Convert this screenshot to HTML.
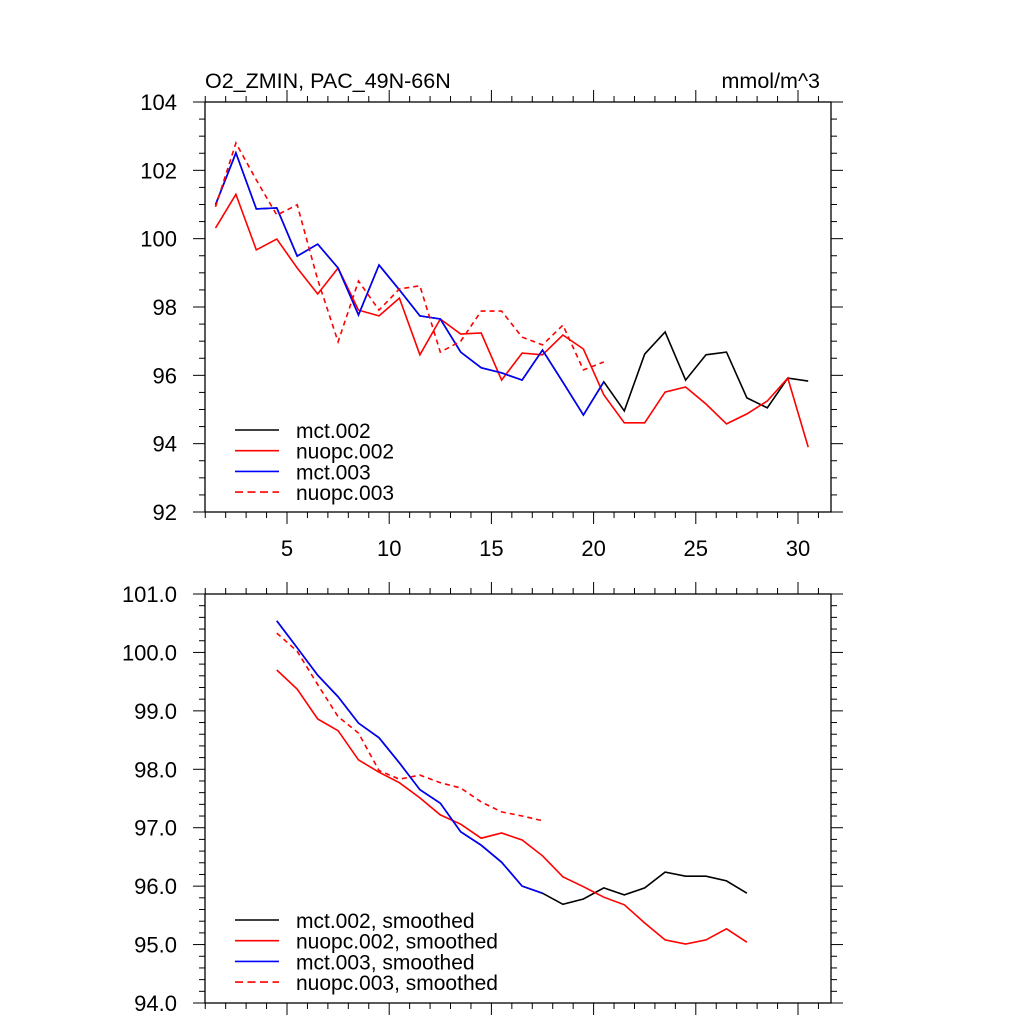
<!DOCTYPE html>
<html><head><meta charset="utf-8"><style>body{margin:0;background:#fff}svg{display:block}text{font-family:"Liberation Sans",sans-serif;fill:#000}</style></head>
<body>
<svg id="chart" width="1024" height="1024" xmlns="http://www.w3.org/2000/svg"></svg>
<script>
const yearsTop = [1.5,2.5,3.5,4.5,5.5,6.5,7.5,8.5,9.5,10.5,11.5,12.5,13.5,14.5,15.5,16.5,17.5,18.5,19.5,20.5,21.5,22.5,23.5,24.5,25.5,26.5,27.5,28.5,29.5,30.5];
const mct002 = [100.99,102.51,100.87,100.9,99.49,99.84,99.14,97.77,99.23,98.5,97.74,97.65,96.68,96.22,96.07,95.86,96.74,95.8,94.84,95.81,94.96,96.62,97.27,95.86,96.6,96.68,95.34,95.05,95.92,95.83];
const nuopc002 = [100.31,101.3,99.67,99.99,99.14,98.38,99.14,97.91,97.74,98.26,96.6,97.65,97.21,97.24,95.86,96.65,96.6,97.18,96.77,95.43,94.61,94.61,95.51,95.66,95.16,94.58,94.87,95.25,95.92,93.9];
const mct003 = [100.99,102.51,100.87,100.9,99.49,99.84,99.14,97.77,99.23,98.5,97.74,97.65,96.68,96.22,96.07,95.86,96.74,95.8,94.84,95.81];
const nuopc003 = [100.93,102.8,101.72,100.69,100.99,98.8,96.98,98.76,97.91,98.53,98.62,96.68,97.0,97.88,97.88,97.12,96.89,97.47,96.16,96.39];
const yearsSm = [4.5,5.5,6.5,7.5,8.5,9.5,10.5,11.5,12.5,13.5,14.5,15.5,16.5,17.5,18.5,19.5,20.5,21.5,22.5,23.5,24.5,25.5,26.5,27.5];
const mct002s = [100.54,100.08,99.61,99.24,98.79,98.54,98.11,97.65,97.42,96.93,96.70,96.41,96.0,95.88,95.69,95.78,95.97,95.85,95.97,96.24,96.17,96.17,96.09,95.88];
const nuopc002s = [99.7,99.37,98.86,98.66,98.16,97.95,97.77,97.51,97.22,97.06,96.82,96.91,96.79,96.52,96.16,95.99,95.81,95.68,95.37,95.08,95.01,95.08,95.27,95.04];
const mct003s = [100.54,100.08,99.61,99.24,98.79,98.54,98.11,97.65,97.42,96.93,96.70,96.41,96.0,95.88];
const nuopc003s = [100.33,100.02,99.45,98.9,98.62,97.98,97.83,97.9,97.77,97.68,97.44,97.27,97.2,97.12];
const topTicks = [92,94,96,98,100,102,104];
const botTicks = [94,95,96,97,98,99,100,101];
const xTicks = [5,10,15,20,25,30];

const svg = document.getElementById('chart');
const NS = 'http://www.w3.org/2000/svg';
function el(tag, attrs, parent){const e=document.createElementNS(NS,tag);for(const k in attrs)e.setAttribute(k,attrs[k]);(parent||svg).appendChild(e);return e;}
const X0=205,X1=831;
const xs = v => 287 + (v-5)*(798-287)/25;
function panel(name, top, bot, ymin, ymax, minorStep, yLabels, dec, showX){
  const g = el('g',{});
  
  
  const ys = v => bot - (v-ymin)*(bot-top)/(ymax-ymin);
  el('rect',{x:X0,y:top,width:X1-X0,height:bot-top,fill:'none',stroke:'#000','stroke-width':1.3},g);
  for(let v=1; v<=31.6; v+=1){
    const major = v%5===0; const L = major?12:6; const x=xs(v);
    el('line',{x1:x,x2:x,y1:bot,y2:bot+L,stroke:'#000','stroke-width':1},g);
    el('line',{x1:x,x2:x,y1:top,y2:top-L,stroke:'#000','stroke-width':1},g);
  }
  const n = Math.round((ymax-ymin)/minorStep);
  for(let i=0;i<=n;i++){
    const v=ymin+i*minorStep; const y=ys(v);
    const major = yLabels.some(t=>Math.abs(t-v)<1e-6); const L=major?12:6;
    el('line',{x1:X0,x2:X0-L,y1:y,y2:y,stroke:'#000','stroke-width':1},g);
    el('line',{x1:X1,x2:X1+L,y1:y,y2:y,stroke:'#000','stroke-width':1},g);
  }
  yLabels.forEach(v=>{
    const t=el('text',{x:177,y:ys(v)+8,'text-anchor':'end','font-size':22},g);
    t.textContent = v.toFixed(dec);
    
    
  });
  if(showX) xTicks.forEach(v=>{
    const t=el('text',{x:xs(v),y:bot+44,'text-anchor':'middle','font-size':22},g);
    t.textContent=v;
    
    
  });
  return {g,ys};
}
function series(p, xv, yv, color, dash, nm){
  const pts = yv.map((v,i)=>xs(xv[i]).toFixed(1)+','+p.ys(v).toFixed(1)).join(' ');
  const a={points:pts,fill:'none',stroke:color,'stroke-width':1.6,'stroke-linejoin':'miter'};
  if(dash)a['stroke-dasharray']='5,4';
  const l=el('polyline',a,p.g);
  
  
}
function legend(p, y0, items){
  items.forEach((it,i)=>{
    const y=y0+i*20.7;
    const a={x1:235,x2:279,y1:y,y2:y,stroke:it[1],'stroke-width':1.6};
    if(it[2])a['stroke-dasharray']='8,4.5';
    const l=el('line',a,p.g);
    
    
    const t=el('text',{x:296,y:y+8,'font-size':21},p.g);
    t.textContent=it[0];
    
    
  });
}
const p1 = panel('top-panel',102,512,92,104,0.5,topTicks,0,true);
series(p1,yearsTop,mct002,'#000',false,'line-mct002');
series(p1,yearsTop,nuopc002,'#f00',false,'line-nuopc002');
series(p1,yearsTop,mct003,'#00f',false,'line-mct003');
series(p1,yearsTop,nuopc003,'#f00',true,'line-nuopc003');
legend(p1,430,[['mct.002','#000'],['nuopc.002','#f00'],['mct.003','#00f'],['nuopc.003','#f00',1]]);
const p2 = panel('bottom-panel',594,1003,94,101,0.2,botTicks,1,false);
series(p2,yearsSm,mct002s,'#000',false,'line-mct002-smoothed');
series(p2,yearsSm,nuopc002s,'#f00',false,'line-nuopc002-smoothed');
series(p2,yearsSm,mct003s,'#00f',false,'line-mct003-smoothed');
series(p2,yearsSm,nuopc003s,'#f00',true,'line-nuopc003-smoothed');
legend(p2,920,[['mct.002, smoothed','#000'],['nuopc.002, smoothed','#f00'],['mct.003, smoothed','#00f'],['nuopc.003, smoothed','#f00',1]]);
const t1=el('text',{x:205,y:88,'font-size':21.5});
t1.textContent='O2_ZMIN, PAC_49N-66N';


const t2=el('text',{x:820,y:88,'font-size':21.5,'text-anchor':'end'});
t2.textContent='mmol/m^3';


</script>
</body></html>
